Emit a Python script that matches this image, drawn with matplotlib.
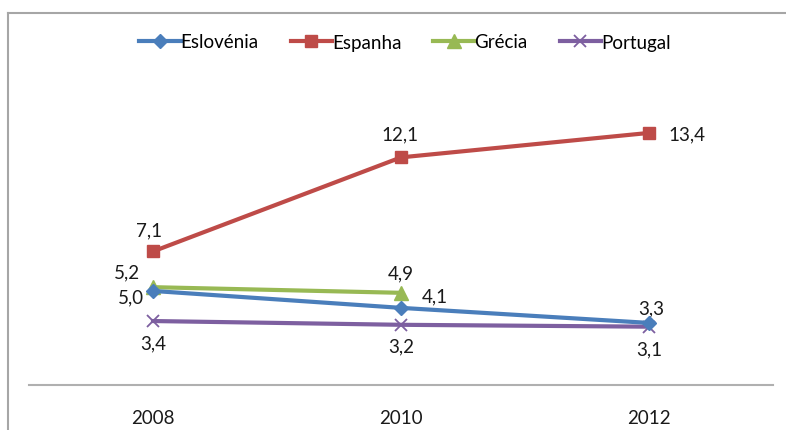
import matplotlib
matplotlib.use("Agg")
import matplotlib.pyplot as plt
from matplotlib.lines import Line2D

plt.rcParams['font.family'] = ['Lato', 'DejaVu Sans']

years = ['2008', '2010', '2012']
eslovenia = [5.0, 4.1, 3.3]
espanha = [7.1, 12.1, 13.4]
grecia = [5.2, 4.9]
portugal = [3.4, 3.2, 3.1]

W, H = 786, 431
fig = plt.figure(figsize=(W / 100, H / 100), dpi=100)
ax = fig.add_axes([29 / W, (H - 386) / H, (773 - 29) / W, (386 - 85) / H])

x = [0, 1, 2]
c_blue = '#4A7EBB'
c_red = '#BE4B48'
c_green = '#98B954'
c_purple = '#7D5FA0'
lw = 3.0
fs = 13.5
tc = '#1A1A1A'

ax.plot(x, espanha, color=c_red, lw=lw, marker='s', ms=9, label='Espanha', zorder=3)
ax.plot(x[:2], grecia, color=c_green, lw=lw, marker='^', ms=10, label='Grécia', zorder=3)
ax.plot(x, eslovenia, color=c_blue, lw=lw, marker='D', ms=7.5, label='Eslovénia', zorder=4)
ax.plot(x, portugal, color=c_purple, lw=lw, marker='x', ms=9, mew=1.3, label='Portugal', zorder=2)

def lab(xi, yi, dx, dy, ha='center', va='center'):
    ax.annotate(f"{yi:.1f}".replace('.', ','), (xi, yi), xytext=(dx, dy),
                textcoords='offset pixels', ha=ha, va=va, fontsize=fs, color=tc)

# Espanha
lab(0, espanha[0], -4, 22)
lab(1, espanha[1], -1, 23)
lab(2, espanha[2], 19, -1, ha='left')
# Eslovénia
lab(0, eslovenia[0], -9, -6, ha='right')
lab(1, eslovenia[1], 34, 12)
lab(2, eslovenia[2], 2, 15)
# Grécia
lab(0, grecia[0], -26, 15)
lab(1, grecia[1], 0, 20)
# Portugal
lab(0, portugal[0], 0, -22)
lab(1, portugal[1], 0, -21)
lab(2, portugal[2], 0, -22)

ax.set_xlim(-0.5, 2.5)
ax.set_ylim(0, 16)
ax.set_xticks(x)
ax.set_xticklabels(years, fontsize=fs, color=tc)
ax.tick_params(axis='x', length=0, pad=17)
ax.set_yticks([])
for s in ['top', 'right', 'left']:
    ax.spines[s].set_visible(False)
ax.spines['bottom'].set_color('#B0B0B0')
ax.spines['bottom'].set_linewidth(1.5)

handles = [
    Line2D([], [], color=c_blue, lw=lw, marker='D', ms=7.5),
    Line2D([], [], color=c_red, lw=lw, marker='s', ms=9),
    Line2D([], [], color=c_green, lw=lw, marker='^', ms=10),
    Line2D([], [], color=c_purple, lw=lw, marker='x', ms=9, mew=1.3),
]
fig.legend(handles, ['Eslovénia', 'Espanha', 'Grécia', 'Portugal'],
           loc='center', bbox_to_anchor=(405 / W, (H - 43) / H), ncol=4,
           frameon=False, fontsize=fs, handlelength=2.2, handletextpad=0.0,
           columnspacing=1.7)

# chart frame (left and top edges visible)
fig.add_artist(Line2D([7.5 / W, 7.5 / W], [0, (H - 13.5) / H], transform=fig.transFigure,
                      color='#A6A6A6', lw=1.5))
fig.add_artist(Line2D([7.5 / W, 785 / W], [(H - 13.5) / H, (H - 13.5) / H],
                      transform=fig.transFigure, color='#A6A6A6', lw=1.5))

fig.savefig('out.png', dpi=100)
